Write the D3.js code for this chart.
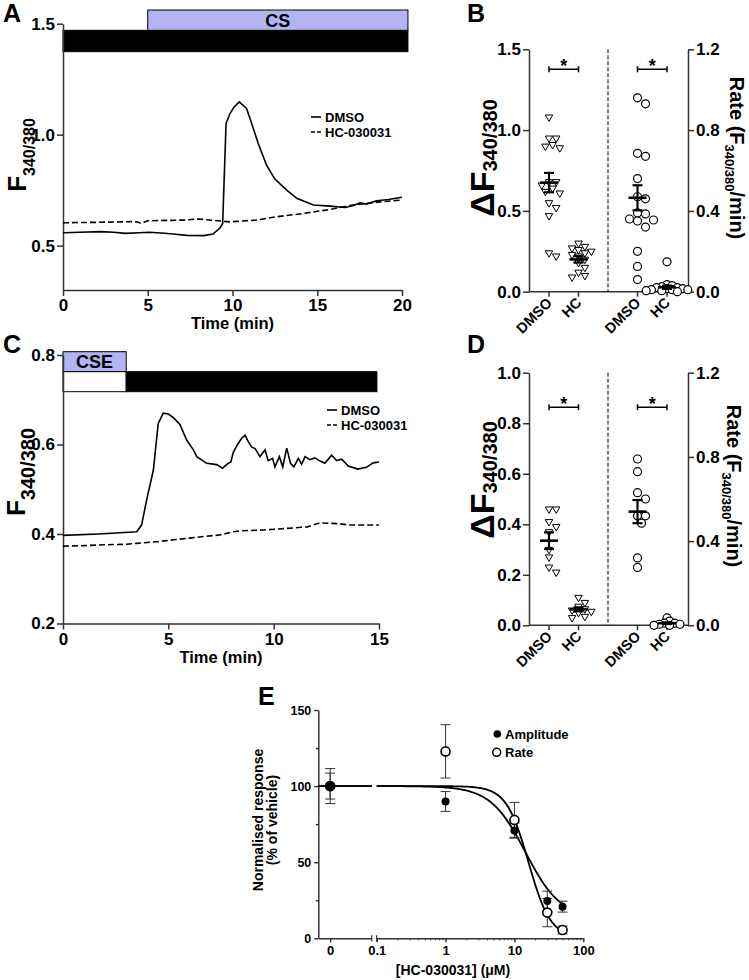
<!DOCTYPE html>
<html>
<head>
<meta charset="utf-8">
<script src="https://cdn.jsdelivr.net/npm/d3@7"></script>
<style>
  body { margin: 0; background: #fff; }
  svg text { font-family: "Liberation Sans", Arial, sans-serif; font-weight: bold; fill: #000; }
</style>
</head>
<body>
<svg id="fig" width="749" height="980"></svg>
<script>
// ---------- panel A : CS traces ----------
const A_time_dmso = [0, 1, 2.2, 3, 3.7, 4.5, 5.1, 6, 6.5, 7.3, 8.3, 8.85, 9.26, 9.42, 9.62, 9.85, 10.1, 10.4, 10.83, 11.13,
  11.52, 12.01, 12.5, 13.2, 13.79, 14.77, 15.75, 16.64, 17.1, 17.52, 17.9, 18.5, 19.2, 20];
const A_dmso = [0.558, 0.560, 0.563, 0.560, 0.555, 0.558, 0.560, 0.556, 0.552, 0.546, 0.545, 0.552, 0.579, 0.600, 1.05, 1.095, 1.125, 1.148, 1.118, 1.05,
  0.96, 0.862, 0.80, 0.75, 0.713, 0.683, 0.678, 0.672, 0.680, 0.693, 0.687, 0.702, 0.708, 0.718];
const A_time_hc = [0, 2, 4.15, 4.4, 4.6, 5, 7.1, 8, 9.85, 11.4, 12.6, 14.2, 15.75, 17.1, 18.7, 20];
const A_hc = [0.603, 0.605, 0.608, 0.606, 0.600, 0.612, 0.615, 0.620, 0.607, 0.615, 0.630, 0.645, 0.663, 0.683, 0.697, 0.705];
const A_xticks = [0, 5, 10, 15, 20];
const A_yticks = [0.5, 1.0, 1.5];
const A_cs = [5, 20.35];
const A_drug = [0, 20.35];

// ---------- panel C : CSE traces ----------
const C_time_dmso = [0, 1.7, 3.5, 3.73, 3.97, 4.29, 4.52, 4.76, 5.0, 5.24, 5.55, 5.87, 6.19, 6.35, 6.82, 7.29, 7.58, 7.82, 7.97, 8.08,
  8.27, 8.48, 8.64, 8.8, 8.96, 9.12, 9.27, 9.35, 9.59, 9.74, 9.95, 10.06, 10.27, 10.43, 10.62, 10.8, 10.96, 11.17, 11.33, 11.49,
  11.72, 11.96, 12.2, 12.43, 12.75, 12.99, 13.23, 13.54, 14.0, 14.4, 14.73, 15.0];
const C_dmso = [0.397, 0.400, 0.405, 0.420, 0.476, 0.543, 0.647, 0.670, 0.668, 0.660, 0.645, 0.610, 0.588, 0.573, 0.558, 0.555, 0.547, 0.557, 0.561, 0.582,
  0.599, 0.614, 0.621, 0.606, 0.594, 0.591, 0.579, 0.573, 0.588, 0.564, 0.569, 0.550, 0.573, 0.550, 0.592, 0.558, 0.550, 0.569, 0.556, 0.573,
  0.566, 0.570, 0.563, 0.558, 0.576, 0.564, 0.567, 0.552, 0.545, 0.549, 0.559, 0.561];
const C_time_hc = [0, 1, 2, 3, 3.5, 4.5, 5.25, 6.2, 7.45, 8.1, 8.4, 9.5, 10.5, 11.3, 11.6, 12.2, 12.6, 13.1, 13.6, 14.2, 15];
const C_hc = [0.373, 0.374, 0.376, 0.377, 0.379, 0.383, 0.387, 0.392, 0.398, 0.405, 0.407, 0.409, 0.412, 0.415, 0.416, 0.425, 0.424, 0.423, 0.420, 0.420, 0.420];
const C_xticks = [0, 5, 10, 15];
const C_yticks = [0.2, 0.4, 0.6, 0.8];
const C_cse = [0, 3];
const C_drug = [3, 14.9];

// ---------- panel B : CS amplitude / rate ----------
const groupLabels = ["DMSO", "HC"];
const B_amp_dmso = [1.08, 0.95, 0.95, 0.91, 0.90, 0.89, 0.68, 0.68, 0.66, 0.64, 0.62, 0.61, 0.55, 0.52, 0.47, 0.24, 0.22];
const B_amp_hc = [0.30, 0.28, 0.27, 0.26, 0.25, 0.24, 0.23, 0.22, 0.20, 0.18, 0.15, 0.12, 0.10, 0.09];
const B_rate_dmso = [0.96, 0.93, 0.685, 0.67, 0.56, 0.47, 0.46, 0.39, 0.385, 0.36, 0.355, 0.35, 0.32, 0.20, 0.125, 0.06];
const B_rate_hc = [0.148, 0.035, 0.03, 0.025, 0.02, 0.02, 0.015, 0.015, 0.01, 0.01, 0.01, 0.005, 0.005, 0.0];
const B_mean = [0.675, 0.20, 0.465, 0.022];
const B_sem = [0.06, 0.02, 0.062, 0.008];
const B_left_ticks = [0, 0.5, 1.0, 1.5];
const B_right_ticks = [0, 0.4, 0.8, 1.2];

// ---------- panel D : CSE amplitude / rate ----------
const D_amp_dmso = [0.46, 0.46, 0.41, 0.39, 0.37, 0.30, 0.27, 0.23, 0.21];
const D_amp_hc = [0.11, 0.09, 0.075, 0.065, 0.06, 0.055, 0.05, 0.035, 0.03];
const D_rate_dmso = [0.79, 0.73, 0.63, 0.60, 0.52, 0.52, 0.485, 0.32, 0.275];
const D_rate_hc = [0.035, 0.02, 0.01, 0.01, 0.005, 0.005, 0.0, 0.0];
const D_mean = [0.335, 0.063, 0.54, 0.01];
const D_sem = [0.033, 0.008, 0.055, 0.004];
const D_left_ticks = [0, 0.2, 0.4, 0.6, 0.8, 1.0];
const D_right_ticks = [0, 0.4, 0.8, 1.2];

// ---------- panel E : concentration response ----------
const E_conc = [0, 1, 10, 30, 50];
const E_amp = [100, 89.9, 70.8, 24.5, 20.8];
const E_amp_sem = [8.5, 6.5, 5, 6.5, 3.6];
const E_rate = [100, 122.8, 77.8, 16.9, 5.5];
const E_rate_sem = [11.5, 17.5, 11.5, 9.3, 2.6];
const E_amp_fit = { top: 100, bottom: 13, ic50: 14.5, hill: 1.7 };
const E_rate_fit = { top: 100, bottom: 0, ic50: 16, hill: 2.7 };
const E_xticks = [0.1, 1, 10, 100];
const E_yticks = [0, 50, 100, 150];

const svg = d3.select("#fig");
const AXC = "#333";

function fmtAxis(g, size) {
  g.select(".domain").attr("stroke", AXC).attr("stroke-width", 1.5);
  g.selectAll(".tick line").attr("stroke", AXC).attr("stroke-width", 1.5);
  g.selectAll(".tick text").style("font-size", size + "px");
}

function letter(t, x, y) {
  svg.append("text").attr("x", x).attr("y", y).style("font-size", "25px").text(t);
}

// rotated label with a subscript part
function subLabel(x, y, rot, parts) {
  const t = svg.append("text").attr("transform", `translate(${x},${y}) rotate(${rot})`).attr("text-anchor", "middle");
  parts.forEach(p => {
    t.append("tspan").style("font-size", p.size + "px").attr("dy", p.dy || 0).text(p.text);
  });
  return t;
}

// ---------------- trace panels (A, C) ----------------
function tracePanel(o) {
  const x = d3.scaleLinear().domain(o.xDomain).range(o.xRange);
  const y = d3.scaleLinear().domain(o.yDomain).range(o.yRange);
  const g = svg.append("g");

  o.bars.forEach(b => {
    g.append("rect")
      .attr("x", x(b.span[0])).attr("y", b.y)
      .attr("width", x(b.span[1]) - x(b.span[0])).attr("height", b.h)
      .attr("fill", b.fill).attr("stroke", "#000").attr("stroke-width", 1);
    if (b.label) {
      g.append("text")
        .attr("x", (x(b.span[0]) + x(b.span[1])) / 2).attr("y", b.y + b.h / 2).attr("dy", "0.36em")
        .attr("text-anchor", "middle").style("font-size", "18px").text(b.label);
    }
  });

  const gx = g.append("g").attr("transform", `translate(0,${o.yRange[0]})`)
    .call(d3.axisBottom(x).tickValues(o.xTicks).tickSize(6).tickPadding(3).tickSizeOuter(0).tickFormat(d3.format("d")));
  fmtAxis(gx, 17);
  const gy = g.append("g").attr("transform", `translate(${o.xRange[0]},0)`)
    .call(d3.axisLeft(y).tickValues(o.yTicks).tickSize(6).tickPadding(2).tickSizeOuter(0).tickFormat(d3.format(".1f")));
  fmtAxis(gy, 17);

  const line = d3.line().x(d => x(d[0])).y(d => y(d[1]));
  g.append("path").datum(d3.zip(o.tHc, o.hc)).attr("d", line)
    .attr("fill", "none").attr("stroke", "#000").attr("stroke-width", 1.6).attr("stroke-dasharray", "6,3");
  g.append("path").datum(d3.zip(o.tDmso, o.dmso)).attr("d", line)
    .attr("fill", "none").attr("stroke", "#000").attr("stroke-width", 1.6);

  // legend
  const lg = g.append("g").attr("transform", `translate(${o.legend[0]},${o.legend[1]})`);
  [["DMSO", null], ["HC-030031", "4,2"]].forEach((d, i) => {
    lg.append("line").attr("x1", 0).attr("x2", 10).attr("y1", i * 15).attr("y2", i * 15)
      .attr("stroke", "#000").attr("stroke-width", 1.6).attr("stroke-dasharray", d[1]);
    lg.append("text").attr("x", 14).attr("y", i * 15).attr("dy", "0.36em").style("font-size", "13px").text(d[0]);
  });

  g.append("text").attr("x", (o.xRange[0] + o.xRange[1]) / 2).attr("y", o.xTitleY)
    .attr("text-anchor", "middle").style("font-size", "16.5px").text("Time (min)");
}

tracePanel({
  xDomain: [0, 20], xRange: [63, 402], yDomain: [0.3, 1.5], yRange: [290, 23.7],
  xTicks: A_xticks, yTicks: A_yticks,
  tDmso: A_time_dmso, dmso: A_dmso, tHc: A_time_hc, hc: A_hc,
  bars: [
    { span: A_drug, y: 30.3, h: 21.4, fill: "#000" },
    { span: A_cs, y: 10, h: 20.3, fill: "#b4b4f3", label: "CS" }
  ],
  legend: [311, 117], xTitleY: 329
});
subLabel(26, 155, -90, [{ text: "F", size: 26 }, { text: "340/380", size: 16, dy: 9 }]);
letter("A", 3, 22);

tracePanel({
  xDomain: [0, 15], xRange: [63, 379], yDomain: [0.2, 0.8], yRange: [623.5, 355],
  xTicks: C_xticks, yTicks: C_yticks,
  tDmso: C_time_dmso, dmso: C_dmso, tHc: C_time_hc, hc: C_hc,
  bars: [
    { span: C_cse, y: 351.7, h: 20, fill: "#b4b4f3", label: "CSE" },
    { span: C_cse, y: 371.7, h: 20, fill: "#fff" },
    { span: C_drug, y: 371.7, h: 20, fill: "#000" }
  ],
  legend: [327, 410], xTitleY: 663
});
subLabel(25, 472, -90, [{ text: "F", size: 26 }, { text: "340/380", size: 20, dy: 10 }]);
letter("C", 3, 353);

// ---------------- scatter panels (B, D) ----------------
// deterministic horizontal dodge so points of similar value sit side by side
function dodge(values, yScale, minDist, step) {
  const pts = values.map(v => ({ v, y: yScale(v) })).sort((a, b) => a.y - b.y);
  const placed = [];
  pts.forEach(p => {
    let dx = 0;
    for (let k = 0; k < 60; k++) {
      dx = k === 0 ? 0 : (k % 2 ? 1 : -1) * Math.ceil(k / 2) * step;
      if (!placed.some(q => Math.hypot(q.dx - dx, q.y - p.y) < minDist)) break;
    }
    p.dx = dx;
    placed.push(p);
  });
  return placed;
}

function scatterPanel(o) {
  const g = svg.append("g");
  const xc = d3.scalePoint().domain(["DMSO_a", "HC_a", "sep", "DMSO_b", "HC_b"]).range([o.x0 + 20, o.x1 - 21]);
  const yl = d3.scaleLinear().domain(o.leftDomain).range(o.yRange);
  const yr = d3.scaleLinear().domain([0, 1.2]).range(o.yRange);
  const y0 = o.yRange[0];

  const gl = g.append("g").attr("transform", `translate(${o.x0},0)`)
    .call(d3.axisLeft(yl).tickValues(o.leftTicks).tickSize(6).tickPadding(2).tickSizeOuter(0).tickFormat(d3.format(".1f")));
  fmtAxis(gl, 17);
  const gr = g.append("g").attr("transform", `translate(${o.x1},0)`)
    .call(d3.axisRight(yr).tickValues(o.rightTicks).tickSize(6).tickPadding(2).tickSizeOuter(0).tickFormat(d3.format(".1f")));
  fmtAxis(gr, 17);

  // bottom axis
  g.append("line").attr("x1", o.x0).attr("x2", o.x1).attr("y1", y0).attr("y2", y0)
    .attr("stroke", AXC).attr("stroke-width", 1.5);
  const cats = ["DMSO_a", "HC_a", "DMSO_b", "HC_b"];
  cats.forEach((c, i) => {
    g.append("line").attr("x1", xc(c)).attr("x2", xc(c)).attr("y1", y0).attr("y2", y0 + 5)
      .attr("stroke", AXC).attr("stroke-width", 1.5);
    g.append("text").attr("transform", `translate(${xc(c) + 4},${y0 + 12}) rotate(-45)`)
      .attr("text-anchor", "end").style("font-size", "14.5px").text(groupLabels[i % 2]);
  });

  // separator
  g.append("line").attr("x1", xc("sep")).attr("x2", xc("sep")).attr("y1", o.yRange[1]).attr("y2", y0)
    .attr("stroke", "#000").attr("stroke-width", 1).attr("stroke-dasharray", "4,2");

  const sets = [
    { c: "DMSO_a", vals: o.ampDmso, s: yl, tri: true, md: 7, st: 3.6 },
    { c: "HC_a", vals: o.ampHc, s: yl, tri: true, md: 6, st: 3.2 },
    { c: "DMSO_b", vals: o.rateDmso, s: yr, tri: false, md: 7.5, st: 4 },
    { c: "HC_b", vals: o.rateHc, s: yr, tri: false, md: 3.6, st: 2.6 }
  ];
  const tri = d3.symbol(d3.symbolTriangle, 24)();
  sets.forEach((set, i) => {
    const pts = dodge(set.vals, set.s, set.md, set.st);
    const cx = xc(set.c);
    if (set.tri) {
      g.selectAll(null).data(pts).join("path").attr("d", tri)
        .attr("transform", d => `translate(${cx + d.dx},${d.y}) rotate(180)`)
        .attr("fill", "#fff").attr("stroke", "#000").attr("stroke-width", 1);
    } else {
      g.selectAll(null).data(pts).join("circle")
        .attr("cx", d => cx + d.dx).attr("cy", d => d.y).attr("r", 4)
        .attr("fill", "#fff").attr("stroke", "#000").attr("stroke-width", 1.2);
    }
    // mean +/- SEM
    const m = o.mean[i], e = o.sem[i];
    g.append("line").attr("x1", cx - 9).attr("x2", cx + 9).attr("y1", set.s(m)).attr("y2", set.s(m))
      .attr("stroke", "#000").attr("stroke-width", 2.6);
    g.append("line").attr("x1", cx).attr("x2", cx).attr("y1", set.s(m - e)).attr("y2", set.s(m + e))
      .attr("stroke", "#000").attr("stroke-width", 2.2);
    [m - e, m + e].forEach(v => {
      g.append("line").attr("x1", cx - 5).attr("x2", cx + 5).attr("y1", set.s(v)).attr("y2", set.s(v))
        .attr("stroke", "#000").attr("stroke-width", 2.2);
    });
  });

  // significance brackets
  [["DMSO_a", "HC_a"], ["DMSO_b", "HC_b"]].forEach(p => {
    const a = xc(p[0]), b = xc(p[1]), yb = o.bracketY;
    g.append("path").attr("d", `M${a},${yb - 3}V${yb + 3}M${a},${yb}H${b}M${b},${yb - 3}V${yb + 3}`)
      .attr("fill", "none").attr("stroke", "#000").attr("stroke-width", 1.5);
    g.append("text").attr("x", (a + b) / 2).attr("y", yb + 3).attr("text-anchor", "middle")
      .style("font-size", "18px").text("*");
  });
}

scatterPanel({
  x0: 529, x1: 688, yRange: [291.7, 49.3], leftDomain: [0, 1.5],
  leftTicks: B_left_ticks, rightTicks: B_right_ticks,
  ampDmso: B_amp_dmso, ampHc: B_amp_hc, rateDmso: B_rate_dmso, rateHc: B_rate_hc,
  mean: B_mean, sem: B_sem, bracketY: 69.3
});
subLabel(494, 158, -90, [{ text: "ΔF", size: 34 }, { text: "340/380", size: 20, dy: 3 }]);
subLabel(730, 158, 90, [{ text: "Rate (F", size: 20 }, { text: "340/380", size: 13, dy: 5 }, { text: "/min)", size: 20, dy: -5 }]);
letter("B", 467, 22);

scatterPanel({
  x0: 529, x1: 688, yRange: [625.3, 372.7], leftDomain: [0, 1.0],
  leftTicks: D_left_ticks, rightTicks: D_right_ticks,
  ampDmso: D_amp_dmso, ampHc: D_amp_hc, rateDmso: D_rate_dmso, rateHc: D_rate_hc,
  mean: D_mean, sem: D_sem, bracketY: 407.3
});
subLabel(494, 480, -90, [{ text: "ΔF", size: 34 }, { text: "340/380", size: 20, dy: 3 }]);
subLabel(727, 486, 90, [{ text: "Rate (F", size: 20 }, { text: "340/380", size: 13, dy: 5 }, { text: "/min)", size: 20, dy: -5 }]);
letter("D", 467, 353);

// ---------------- panel E ----------------
(function () {
  const g = svg.append("g");
  const xZero = d3.scaleLinear().domain([-1, 3.5]).range([318.3, 371.7]);
  const xLog = d3.scaleLog().domain([0.1, 100]).range([376.7, 583.3]);
  const xE = c => (c === 0 ? xZero(0) : xLog(c));
  const yE = d3.scaleLinear().domain([0, 150]).range([938.3, 710]);
  const yb = yE(0);

  const gy = g.append("g").attr("transform", "translate(318.3,0)")
    .call(d3.axisLeft(yE).tickValues(E_yticks).tickSize(4).tickPadding(3).tickSizeOuter(0));
  fmtAxis(gy, 12.5);
  const gym = g.append("g").attr("transform", "translate(318.3,0)")
    .call(d3.axisLeft(yE).tickValues([25, 75, 125]).tickSize(2.5).tickFormat("").tickSizeOuter(0));
  fmtAxis(gym, 12);
  gym.select(".domain").remove();

  const gx0 = g.append("g").attr("transform", `translate(0,${yb})`)
    .call(d3.axisBottom(xZero).tickValues([0]).tickSize(4).tickPadding(3).tickSizeOuter(0).tickFormat(d3.format("d")));
  fmtAxis(gx0, 13);
  const gx1 = g.append("g").attr("transform", `translate(0,${yb})`)
    .call(d3.axisBottom(xLog).tickValues(E_xticks).tickSize(4).tickPadding(3).tickSizeOuter(0).tickFormat(d3.format("~g")));
  fmtAxis(gx1, 13);
  const minor = xLog.ticks().filter(v => !E_xticks.includes(v));
  const gx2 = g.append("g").attr("transform", `translate(0,${yb})`)
    .call(d3.axisBottom(xLog).tickValues(minor).tickSize(2).tickFormat("").tickSizeOuter(0));
  fmtAxis(gx2, 12);
  gx2.select(".domain").remove();
  gx2.selectAll(".tick line").attr("stroke-width", 1);
  // break marks
  [371.7, 376.7].forEach(xv => {
    g.append("line").attr("x1", xv).attr("x2", xv).attr("y1", yb - 3).attr("y2", yb + 3)
      .attr("stroke", AXC).attr("stroke-width", 1.2);
  });

  // fitted curves
  const hill = (f, c) => f.bottom + (f.top - f.bottom) / (1 + Math.pow(c / f.ic50, f.hill));
  const samples = d3.range(-1, 1.7001, 0.02).map(e => Math.pow(10, e));
  const line = d3.line().x(d => d[0]).y(d => d[1]);
  [E_amp_fit, E_rate_fit].forEach(f => {
    g.append("path").datum([[xZero(-1), yE(f.top)], [xZero(3.5), yE(f.top)]]).attr("d", line)
      .attr("fill", "none").attr("stroke", "#000").attr("stroke-width", 1.8);
    g.append("path").datum(samples.map(c => [xLog(c), yE(hill(f, c))])).attr("d", line)
      .attr("fill", "none").attr("stroke", "#000").attr("stroke-width", 1.8);
  });

  // error bars + points
  function errBars(vals, sems) {
    vals.forEach((v, i) => {
      const cx = xE(E_conc[i]);
      g.append("path")
        .attr("d", `M${cx},${yE(v - sems[i])}V${yE(v + sems[i])}M${cx - 5},${yE(v - sems[i])}H${cx + 5}M${cx - 5},${yE(v + sems[i])}H${cx + 5}`)
        .attr("fill", "none").attr("stroke", AXC).attr("stroke-width", 1);
    });
  }
  errBars(E_rate, E_rate_sem);
  errBars(E_amp, E_amp_sem);
  g.selectAll(null).data(E_rate).join("circle")
    .attr("cx", (d, i) => xE(E_conc[i])).attr("cy", d => yE(d)).attr("r", 4.5)
    .attr("fill", "#fff").attr("stroke", "#000").attr("stroke-width", 1.6);
  g.selectAll(null).data(E_amp).join("circle")
    .attr("cx", (d, i) => xE(E_conc[i])).attr("cy", d => yE(d)).attr("r", 4)
    .attr("fill", "#000");
  // zero point drawn bigger where both overlap
  g.append("circle").attr("cx", xE(0)).attr("cy", yE(E_amp[0])).attr("r", 5.2).attr("fill", "#000");

  // legend
  g.append("circle").attr("cx", 497.3).attr("cy", 734).attr("r", 3.8).attr("fill", "#000");
  g.append("text").attr("x", 505).attr("y", 734).attr("dy", "0.36em").style("font-size", "13px").text("Amplitude");
  g.append("circle").attr("cx", 496.7).attr("cy", 752.3).attr("r", 4).attr("fill", "#fff").attr("stroke", "#000").attr("stroke-width", 1.5);
  g.append("text").attr("x", 505).attr("y", 752.3).attr("dy", "0.36em").style("font-size", "13px").text("Rate");

  // axis titles
  g.append("text").attr("x", 453).attr("y", 975).attr("text-anchor", "middle").style("font-size", "14px")
    .text("[HC-030031] (μM)");
  const yt = g.append("text").attr("transform", "translate(263,820) rotate(-90)").attr("text-anchor", "middle").style("font-size", "14px");
  yt.append("tspan").attr("x", 0).attr("dy", 0).text("Normalised response");
  yt.append("tspan").attr("x", 0).attr("dy", 14).text("(% of vehicle)");
})();
letter("E", 258, 705);
</script>
</body>
</html>
